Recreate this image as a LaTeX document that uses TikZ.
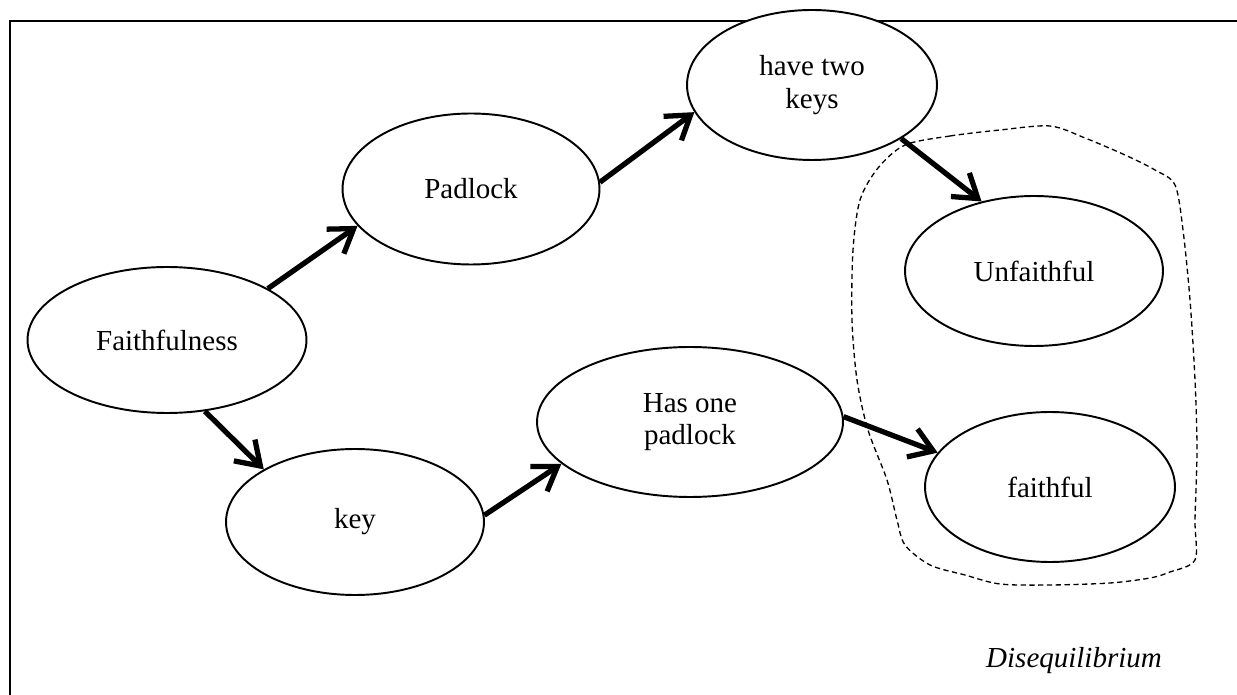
\documentclass[tikz,border=0pt]{standalone}
\usepackage{fontspec}
\setmainfont{Liberation Serif}
\usetikzlibrary{arrows.meta,shapes.geometric}

\begin{document}
\begin{tikzpicture}[x=0.02cm, y=-0.02cm,
      oval/.style={draw, ellipse, fill=white, line width=1.1pt, inner sep=0pt, align=center,
        font=\fontsize{16.5}{18.5}\selectfont},
      arr/.style={-{Straight Barb[length=4.5mm, width=6mm]}, line width=3pt}]
    \useasboundingbox (0,0) rectangle (1237,695);
    \clip (0,0) rectangle (1237,695);
    \draw[line width=1.3pt] (10,21) rectangle (1300,760);
    \node[oval, minimum width=5.58cm, minimum height=2.92cm] (faith) at (167,340) {Faithfulness};
    \node[oval, minimum width=5.14cm, minimum height=3.02cm] (padlock) at (471,189) {Padlock};
    \node[oval, minimum width=5.0cm, minimum height=3.0cm] (twokeys) at (812,85) {have two\\keys};
    \node[oval, minimum width=5.16cm, minimum height=3.0cm] (unfaith) at (1034,271) {Unfaithful};
    \node[oval, minimum width=5.16cm, minimum height=2.92cm] (key) at (355,522) {key};
    \node[oval, minimum width=6.12cm, minimum height=3.0cm] (onepad) at (690,422) {Has one\\padlock};
    \node[oval, minimum width=5.0cm, minimum height=3.0cm] (faithful) at (1050,487) {faithful};
    \node[anchor=base, font=\fontsize{16.5}{18.5}\selectfont\itshape] (diseq) at (1074,667) {Disequilibrium};
    \draw[arr] (faith.27) -- (padlock.198);
    \draw[arr] (faith.298) -- (key.150);
    \draw[arr] (padlock.3) -- (twokeys.193);
    \draw[arr] (key.3) -- (onepad.198);
    \draw[arr] (twokeys.329) -- (unfaith.127);
    \draw[arr] (onepad.2) -- (faithful.163);
    % hand-drawn group round the two outcomes
    \draw[dash pattern=on 3pt off 2pt, line width=0.75pt]
      plot[smooth cycle, tension=0.5] coordinates {(905,145) (950,136) (1000,130) (1050,126)
        (1085,138) (1125,155) (1155,170) (1175,185) (1183,230) (1190,300) (1195,380)
        (1197,450) (1195,520) (1195,560) (1170,572) (1150,578) (1110,583) (1050,585)
        (1000,584) (965,575) (930,565) (905,545) (897,520) (887,480) (868,430)
        (857,380) (852,320) (853,250) (860,200) (878,168)};
  \end{tikzpicture}
\end{document}
